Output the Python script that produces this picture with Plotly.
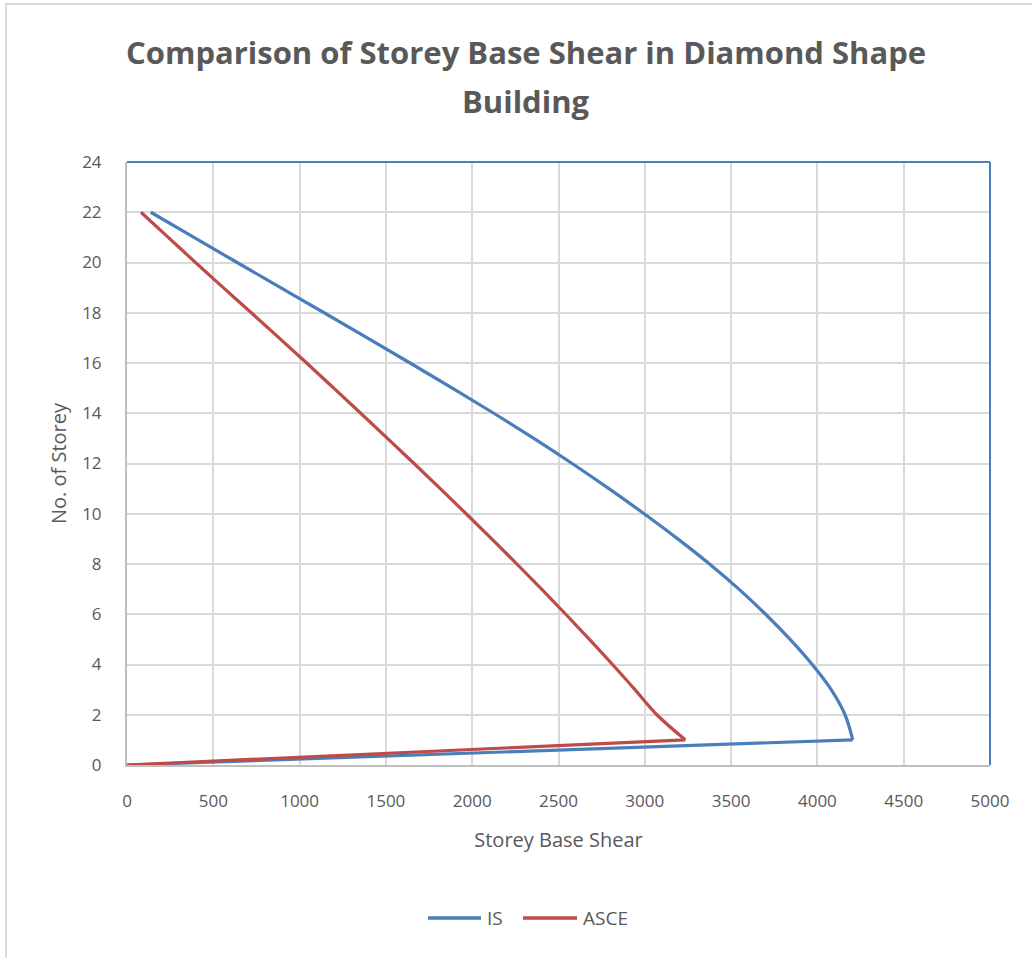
import plotly.graph_objects as go

# Storey levels (0 = base, 22 = roof)
storeys = list(range(0, 23))

# Storey shear per code, storey 0 .. 22
is_shear = [0, 4205, 4160, 4080, 3970, 3842, 3700, 3545, 3375, 3191, 2996,
            2792, 2579, 2357, 2125, 1885, 1640, 1392, 1142, 890, 638, 388, 138]
asce_shear = [0, 3235, 3070, 2943, 2813, 2679, 2542, 2402, 2259, 2113, 1965,
              1815, 1663, 1509, 1354, 1198, 1041, 881, 720, 558, 397, 239, 81]

x_ticks = [0, 500, 1000, 1500, 2000, 2500, 3000, 3500, 4000, 4500, 5000]
y_ticks = [0, 2, 4, 6, 8, 10, 12, 14, 16, 18, 20, 22, 24]

title_lines = ["Comparison of Storey Base Shear in Diamond Shape", "Building"]
series_names = ["IS", "ASCE"]

BLUE = "#4a7ebb"
RED = "#be4b48"
TEXT = "#595959"
FONT = "Open Sans, sans-serif"

W, H = 1032, 958
L, R, T, B = 127, 42, 162, 193
pw, ph = W - L - R, H - T - B


def px_to_paper(px, py):
    return (px - L) / pw, (H - B - py) / ph


fig = go.Figure()
for name, vals, color in zip(series_names, [is_shear, asce_shear], [BLUE, RED]):
    # smoothed profile over the upper storeys
    fig.add_trace(go.Scatter(x=vals[1:], y=storeys[1:], name=name, mode="lines",
                             legendgroup=name, showlegend=False,
                             line=dict(color=color, width=3.2, shape="spline", smoothing=1.0)))
    # straight drop from storey 1 to the base
    fig.add_trace(go.Scatter(x=vals[:2], y=storeys[:2], name=name, mode="lines",
                             legendgroup=name, showlegend=False,
                             line=dict(color=color, width=3.2)))

# outer chart-area frame (left and top edges visible)
x0, y1 = px_to_paper(6, 4)
x1, y0 = px_to_paper(W + 20, H + 20)
fig.add_shape(type="rect", xref="paper", yref="paper", x0=x0, x1=x1, y0=y0, y1=y1,
              line=dict(color="#d9d9d9", width=2), layer="below")

# plot-area border on the top and right edges
fig.add_shape(type="line", xref="paper", yref="paper", x0=0, x1=1, y0=1, y1=1,
              line=dict(color=BLUE, width=2))
fig.add_shape(type="line", xref="paper", yref="paper", x0=1, x1=1, y0=0, y1=1,
              line=dict(color=BLUE, width=2))

# two-line chart title
for text, py in zip(title_lines, [52, 101]):
    tx, ty = px_to_paper(526, py)
    fig.add_annotation(text=text, xref="paper", yref="paper", x=tx, y=ty,
                       xanchor="center", yanchor="middle", showarrow=False,
                       font=dict(family=FONT, size=31, color=TEXT, weight="bold"))

# legend: line sample followed by its label
for name, color, (lx0, lx1) in zip(series_names, [BLUE, RED], [(428, 481), (523, 577)]):
    ax0, ay = px_to_paper(lx0, 918)
    ax1, _ = px_to_paper(lx1, 918)
    fig.add_shape(type="line", xref="paper", yref="paper", x0=ax0, x1=ax1, y0=ay, y1=ay,
                  line=dict(color=color, width=3.5))
    tx, _ = px_to_paper(lx1 + 4, 918)
    fig.add_annotation(text=name, xref="paper", yref="paper", x=tx, y=ay,
                       xanchor="left", yanchor="middle", showarrow=False,
                       font=dict(family=FONT, size=19, color=TEXT))

fig.update_layout(
    width=W, height=H,
    margin=dict(l=L, r=R, t=T, b=B),
    paper_bgcolor="white", plot_bgcolor="white",
    font=dict(family=FONT, color=TEXT, size=17),
    showlegend=False,
    xaxis=dict(range=[0, 5000], tickvals=x_ticks, ticktext=[str(v) for v in x_ticks],
               showgrid=True, gridcolor="#d9d9d9", gridwidth=2,
               showline=True, linecolor="#bfbfbf", linewidth=2, zeroline=False,
               ticks="", ticklabelstandoff=20,
               title=dict(text="Storey Base Shear", font=dict(size=20, color=TEXT), standoff=22),
               tickfont=dict(size=17, color=TEXT)),
    yaxis=dict(range=[0, 24], tickvals=y_ticks, ticktext=[str(v) for v in y_ticks],
               showgrid=True, gridcolor="#d9d9d9", gridwidth=2,
               showline=True, linecolor="#bfbfbf", linewidth=2, zeroline=False,
               ticks="", ticklabelstandoff=20,
               title=dict(text="No. of Storey", font=dict(size=20, color=TEXT), standoff=10),
               tickfont=dict(size=17, color=TEXT)),
)

fig.write_html("out.html")
